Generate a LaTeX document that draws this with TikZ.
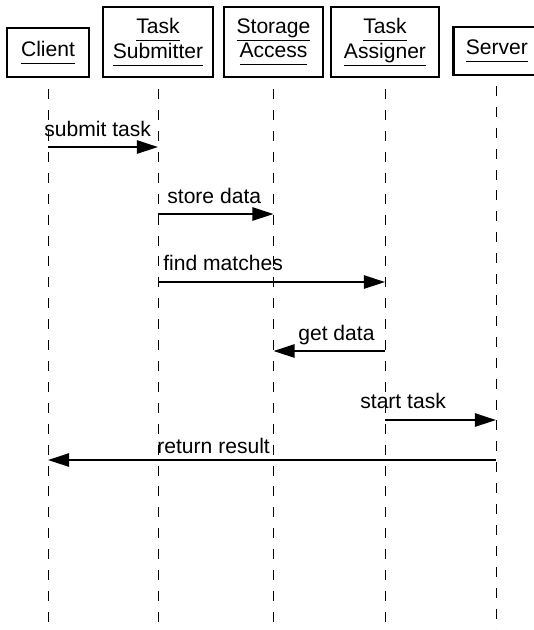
\documentclass[tikz,border=0pt]{standalone}
\usepackage{fontspec}
\setmainfont{Liberation Sans}
\usepackage{tikz}
\usetikzlibrary{arrows,arrows.meta,shapes,positioning,calc}
\newcommand{\hdr}[1]{\underline{\vphantom{g}#1}}

\begin{document}
\begin{tikzpicture}[x=0.02cm,y=-0.02cm,
  font=\fontsize{12}{12.5}\selectfont,
  actor/.style={rectangle,draw,line width=1.5pt,align=center,inner sep=0pt},
  lifeline/.style={line width=0.55pt,dash pattern=on 5.7pt off 6.2pt,dash phase=5.7pt},
  msg/.style={line width=1.3pt,-{Triangle[length=12pt,width=7.5pt]}},
  msglabel/.style={anchor=base west,inner sep=0pt}]
\useasboundingbox (0,0) rectangle (534,630);
\clip (0,0) rectangle (534,630);

% Participants
\node[actor,minimum width=1.64cm,minimum height=0.98cm] (client) at (48,52.5) {\hdr{Client}};
\node[actor,minimum width=2.2cm,minimum height=1.4cm] (submitter) at (158,42) {\hdr{Task}\\\hdr{Submitter}};
\node[actor,minimum width=1.98cm,minimum height=1.4cm] (storage) at (273.5,42) {\hdr{Storage}\\\hdr{Access}};
\node[actor,minimum width=2.16cm,minimum height=1.4cm] (assigner) at (385,42) {\hdr{Task}\\\hdr{Assigner}};
% server box runs off the right edge
\node[actor,anchor=west,minimum width=2.4cm,minimum height=0.96cm] (server) at (452,51)
  {\hdr{Server}\hspace{0.66cm}};

% Lifelines
\coordinate (bottom) at (0,630);
\coordinate (srvtop) at (496,75);
\foreach \p in {client,submitter,storage,assigner}
  \draw[lifeline] (\p.south) -- (\p.south |- bottom);
\draw[lifeline] (srvtop) -- (srvtop |- bottom);

% Messages
\coordinate (m1) at (0,147);
\coordinate (m2) at (0,214);
\coordinate (m3) at (0,282);
\coordinate (m4) at (0,351);
\coordinate (m5) at (0,420);
\coordinate (m6) at (0,460);

\draw[msg] (client |- m1) -- (submitter |- m1);
\node[msglabel] (submitlbl) at (44,136) {submit task};

\draw[msg] (submitter |- m2) -- (storage |- m2);
\node[msglabel] (storelbl) at (167,203) {store data};

\draw[msg] (submitter |- m3) -- (assigner |- m3);
\node[msglabel] (findlbl) at (163,270) {find matches};

\draw[msg] (assigner |- m4) -- (storage |- m4);
\node[msglabel] (getlbl) at (298,340) {get data};

\draw[msg] (assigner |- m5) -- (srvtop |- m5);
\node[msglabel] (startlbl) at (360,408) {start task};

\draw[msg] (srvtop |- m6) -- (client |- m6);
\node[msglabel] (returnlbl) at (157,453) {return result};
\end{tikzpicture}
\end{document}
